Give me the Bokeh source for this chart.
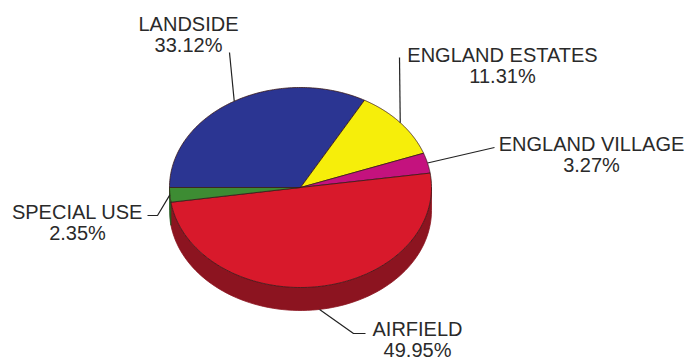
import numpy as np
from bokeh.plotting import figure
from bokeh.models import Range1d
from bokeh.core.properties import value
from bokeh.embed import file_html
from bokeh.resources import INLINE

# ---- data ----
labels = ["LANDSIDE", "ENGLAND ESTATES", "ENGLAND VILLAGE", "AIRFIELD", "SPECIAL USE"]
percents = [33.12, 11.31, 3.27, 49.95, 2.35]
colors = ["#2b3592", "#f6ee0a", "#c4127e", "#d8192b", "#3d8c33"]
side_colors = ["#1c2366", "#a89f05", "#820b52", "#8c1420", "#255a1f"]

# label layout (pixel positions)
label_x = [188, 502, 591, 417, 77]
label_y = [23, 54, 143, 328, 211]
line_gap = 21
elbow_pts = [[(229, 52)], [(399, 57)], [(494, 147)], [(365, 333), (353, 333)], [(147, 215), (157, 215)]]

# ---- geometry (style) ----
W, H = 688, 364
cx, cy, a, b, depth = 300, 187, 131, 100, 23
start_deg = 180.0

p = figure(width=W, height=H, x_range=Range1d(0, W), y_range=Range1d(H, 0),
           output_backend="svg", toolbar_location=None, min_border=0)
p.axis.visible = False
p.grid.visible = False
p.outline_line_color = None
p.background_fill_color = "white"
p.border_fill_color = "white"

vals = np.array(percents)
ang = vals / vals.sum() * 360.0
t1s = start_deg - np.concatenate([[0], np.cumsum(ang)[:-1]])
t2s = t1s - ang

def ell(t):
    r = np.radians(t)
    return cx + a * np.cos(r), cy - b * np.sin(r)

# side wall (visible lower half: angles 180..360 i.e. -180..0)
for t1, t2, sc in zip(t1s, t2s, side_colors):
    for shift in (0, -360, 360):
        lo, hi = max(t2 + shift, -180), min(t1 + shift, 0)
        if hi > lo:
            ts = np.linspace(lo, hi, 80)
            x, y = ell(ts)
            xs = list(x) + list(x[::-1])
            ys = list(y) + list((y + depth)[::-1])
            p.patch(xs, ys, fill_color=sc, line_color=sc, line_width=0.8)

# top face
xs_all, ys_all = [], []
for t1, t2 in zip(t1s, t2s):
    ts = np.linspace(t1, t2, 120)
    x, y = ell(ts)
    xs_all.append([cx] + list(x) + [cx])
    ys_all.append([cy] + list(y) + [cy])
p.patches(xs_all, ys_all, fill_color=colors, line_color="#3a1a1a", line_width=0.8)

# leader lines from slice midpoints
mids = (t1s + t2s) / 2
lx, ly = [], []
for m, elbow in zip(mids, elbow_pts):
    x0, y0 = ell(m)
    if np.sin(np.radians(m)) < -0.5:
        y0 += depth
    pts = [(x0, y0)] + elbow[::-1] if len(elbow) > 1 else [(x0, y0)] + elbow
    lx.append([q[0] for q in pts])
    ly.append([q[1] for q in pts])
p.multi_line(lx, ly, line_color="#222222", line_width=1.2)

# labels
font = value("Liberation Sans")
p.text(label_x, label_y, text=labels, text_font=font, text_font_size="20px",
       text_align="center", text_baseline="alphabetic", text_color="#2a2a2a")
p.text(label_x, [v + line_gap for v in label_y], text=[f"{v:.2f}%" for v in percents],
       text_font=font, text_font_size="20px", text_align="center",
       text_baseline="alphabetic", text_color="#2a2a2a")

open("out.html", "w").write(file_html(p, INLINE))
